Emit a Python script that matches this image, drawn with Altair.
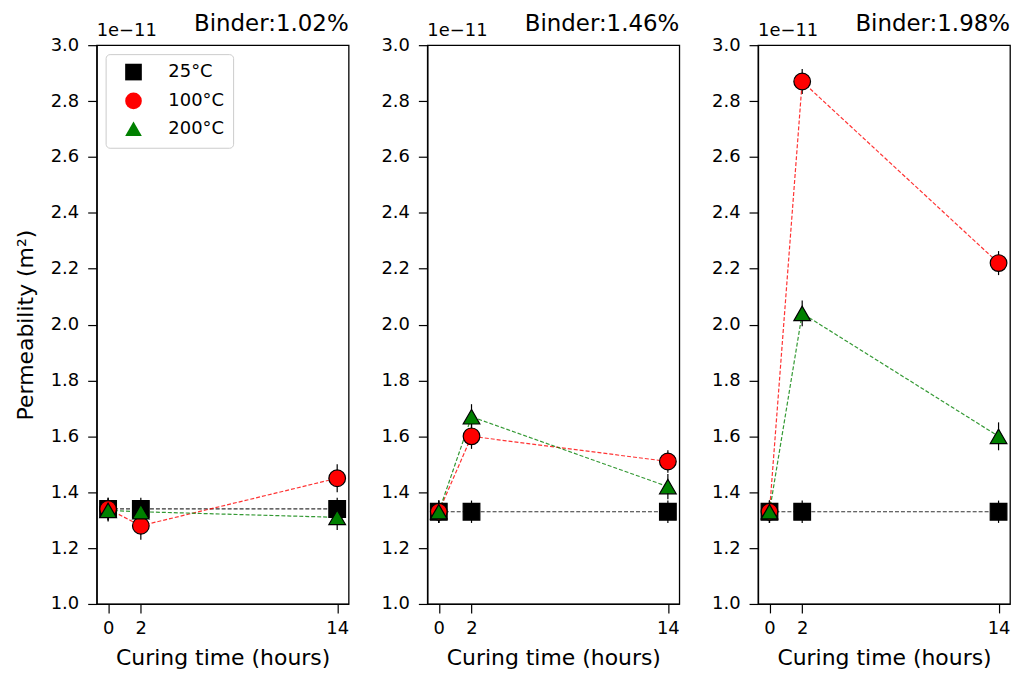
import altair as alt
import pandas as pd

# ---------------- data (permeability in units of 1e-11 m²) ----------------
times = [0, 2, 14]
temps = ["25°C", "100°C", "200°C"]
binders = ["Binder:1.02%", "Binder:1.46%", "Binder:1.98%"]
colors = ["black", "red", "green"]
shapes = ["square", "circle", "triangle-up"]
y_ticks = [1.0, 1.2, 1.4, 1.6, 1.8, 2.0, 2.2, 2.4, 2.6, 2.8, 3.0]
offset_label = "1e\u221211"

b102_25 = [1.34, 1.34, 1.34]
b102_100 = [1.34, 1.28, 1.45]
b102_200 = [1.335, 1.33, 1.31]
b146_25 = [1.33, 1.33, 1.33]
b146_100 = [1.33, 1.60, 1.51]
b146_200 = [1.33, 1.67, 1.42]
b198_25 = [1.33, 1.33, 1.33]
b198_100 = [1.33, 2.87, 2.22]
b198_200 = [1.33, 2.04, 1.60]

e102_25 = [0.04, 0.04, 0.04]
e102_100 = [0.04, 0.05, 0.05]
e102_200 = [0.04, 0.04, 0.045]
e146_25 = [0.04, 0.04, 0.04]
e146_100 = [0.04, 0.045, 0.04]
e146_200 = [0.04, 0.045, 0.045]
e198_25 = [0.04, 0.04, 0.04]
e198_100 = [0.04, 0.045, 0.043]
e198_200 = [0.04, 0.046, 0.05]

series = {
    binders[0]: [b102_25, b102_100, b102_200],
    binders[1]: [b146_25, b146_100, b146_200],
    binders[2]: [b198_25, b198_100, b198_200],
}
errors = {
    binders[0]: [e102_25, e102_100, e102_200],
    binders[1]: [e146_25, e146_100, e146_200],
    binders[2]: [e198_25, e198_100, e198_200],
}

rows = []
for b in binders:
    for ti, t in enumerate(temps):
        for k, x in enumerate(times):
            v = series[b][ti][k]
            e = errors[b][ti][k]
            rows.append(dict(binder=b, temp=t, time=x, perm=v, lo=v - e, hi=v + e))
df = pd.DataFrame(rows)

FONT = "DejaVu Sans"
xscale = alt.Scale(domain=[-0.7, 14.7], nice=False, zero=False)
yscale = alt.Scale(domain=[1.0, 3.0], nice=False, zero=False)
fill_scale = alt.Scale(domain=temps, range=colors)
shape_scale = alt.Scale(domain=temps, range=shapes)


def panel(i, b):
    d = df[df.binder == b]
    base = alt.Chart(d)
    xaxis = alt.Axis(values=times, format="d", title="Curing time (hours)",
                     labelPadding=7, titlePadding=10)
    if i == 0:
        yaxis = alt.Axis(values=y_ticks, format=".1f", title="Permeability (m²)",
                         labelPadding=9, titlePadding=13)
    else:
        yaxis = alt.Axis(values=y_ticks, format=".1f", title=None, labelPadding=9)

    x = alt.X("time:Q", scale=xscale, axis=xaxis)

    errbars = base.mark_rule(color="black", strokeWidth=1.2).encode(
        x=x,
        y=alt.Y("lo:Q", scale=yscale, axis=yaxis),
        y2="hi:Q",
    )
    lines = base.mark_line(strokeDash=[4, 2], strokeWidth=1.2, opacity=0.8).encode(
        x=x,
        y=alt.Y("perm:Q", scale=yscale, axis=yaxis),
        stroke=alt.Stroke("temp:N", scale=alt.Scale(domain=temps, range=colors), legend=None),
        detail="temp:N",
    )
    if i == 0:
        leg = alt.Legend(
            orient="top-left", title=None, offset=9, labelFontSize=18, labelFont=FONT,
            labelColor="black", symbolSize=280, symbolStrokeColor="black",
            symbolStrokeWidth=1.2, fillColor="rgba(255,255,255,0.8)",
            strokeColor="#cccccc", cornerRadius=4, padding=9, symbolOffset=10,
            labelOffset=26, rowPadding=7,
        )
        fill = alt.Fill("temp:N", scale=fill_scale, legend=leg, sort=temps)
        shape = alt.Shape("temp:N", scale=shape_scale, legend=leg, sort=temps)
    else:
        fill = alt.Fill("temp:N", scale=fill_scale, legend=None)
        shape = alt.Shape("temp:N", scale=shape_scale, legend=None)
    points = base.mark_point(filled=True, size=280, stroke="black", strokeWidth=1.2,
                             opacity=1).encode(
        x=x,
        y=alt.Y("perm:Q", scale=yscale, axis=yaxis),
        fill=fill,
        shape=shape,
    )
    offset_txt = alt.Chart(pd.DataFrame({"t": [offset_label]})).mark_text(
        align="left", baseline="alphabetic", fontSize=18, font=FONT, color="black"
    ).encode(text="t:N", x=alt.value(0), y=alt.value(-9))

    return alt.layer(errbars, lines, points, offset_txt).properties(
        width=253, height=561,
        title=alt.TitleParams(b, anchor="end", frame="group", fontSize=23, font=FONT,
                              fontWeight="normal", color="black", offset=12, dy=26),
    )


chart = alt.hconcat(
    *[panel(i, b) for i, b in enumerate(binders)], spacing=79, bounds="flush"
).resolve_legend(fill="independent", shape="independent").properties(
    padding={"left": 5, "top": 3, "right": 2, "bottom": 0}
).configure_view(stroke="black", strokeWidth=1.3).configure_axis(
    domainColor="black", domainWidth=1.3, tickColor="black", tickWidth=1.2, tickSize=9,
    labelFont=FONT, labelFontSize=18, labelColor="black", titleFont=FONT,
    titleFontSize=22, titleFontWeight="normal", titleColor="black", grid=False,
)

chart.save("out.html", embed_options={"renderer": "svg", "actions": False})
